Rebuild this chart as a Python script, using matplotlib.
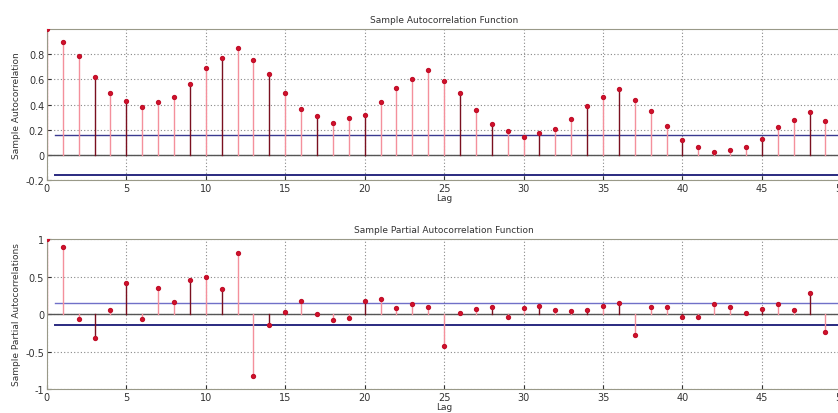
import matplotlib
matplotlib.use("Agg")
import matplotlib.pyplot as plt

lags = list(range(0, 50))

acf = [1.0, 0.896, 0.784, 0.621, 0.488, 0.429, 0.381, 0.416, 0.459, 0.563,
       0.688, 0.773, 0.851, 0.752, 0.640, 0.488, 0.363, 0.309, 0.251, 0.293,
       0.320, 0.416, 0.531, 0.603, 0.677, 0.589, 0.491, 0.357, 0.243, 0.189,
       0.144, 0.171, 0.203, 0.288, 0.389, 0.456, 0.523, 0.437, 0.352, 0.227,
       0.117, 0.064, 0.019, 0.040, 0.059, 0.128, 0.219, 0.280, 0.341, 0.269]

pacf = [1.0, 0.89, -0.07, -0.32, 0.05, 0.42, -0.06, 0.35, 0.155, 0.46,
        0.50, 0.34, 0.81, -0.83, -0.14, 0.03, 0.18, 0.005, -0.085, -0.05,
        0.18, 0.20, 0.075, 0.13, 0.10, -0.42, 0.01, 0.067, 0.098, -0.04,
        0.084, 0.107, 0.058, 0.036, 0.058, 0.107, 0.147, -0.28, 0.10, 0.098,
        -0.04, -0.04, 0.13, 0.10, 0.01, 0.07, 0.13, 0.058, 0.28, -0.235]

acf_bound = 0.16
pacf_bound = 0.15

# stems that render darker in the reference (pixel alignment look)
dark_lags = [3, 5, 9, 11, 14, 17, 20, 26, 28, 31, 34, 36, 40, 45, 48]


def draw_panel(ax, vals, bound, ylim, yticks, ylabel, title, up_color):
    for lag, v in zip(lags, vals):
        c = "#7a1020" if lag in dark_lags else "#f4909c"
        ax.plot([lag, lag], [0, v], color=c, lw=1.0, zorder=2)
    ax.plot(lags, vals, "o", color="#d8102a", ms=2.8, mec="#c0102a", zorder=3)
    ax.axhline(0, color="#555555", lw=1.0, zorder=1)
    ax.plot([0.5, 50], [bound, bound], color=up_color, lw=1.0, zorder=1)
    ax.plot([0.5, 50], [-bound, -bound], color="#2a2a80", lw=1.4, zorder=1)
    ax.set_xlim(0, 50)
    ax.set_ylim(*ylim)
    ax.set_xticks(range(0, 51, 5))
    ax.set_yticks(yticks)
    ax.grid(True, linestyle=(0, (1, 2)), color="#888888", lw=0.8)
    ax.set_axisbelow(True)
    ax.tick_params(labelsize=7, direction="in", length=3, pad=2, colors="#333333")
    for s in ax.spines.values():
        s.set_color("#999988")
    ax.set_ylabel(ylabel, fontsize=6.5, color="#333333", labelpad=3)
    ax.set_xlabel("Lag", fontsize=6.5, color="#333333", labelpad=0)
    ax.set_title(title, fontsize=6.5, color="#333333", pad=5)


fig = plt.figure(figsize=(8.38, 4.14), dpi=100)
ax1 = fig.add_axes([0.056, 0.5628, 0.948, 0.3647])
ax2 = fig.add_axes([0.056, 0.058, 0.948, 0.362])

draw_panel(ax1, acf, acf_bound, (-0.2, 1.0), [-0.2, 0, 0.2, 0.4, 0.6, 0.8],
           "Sample Autocorrelation", "Sample Autocorrelation Function", "#3a3a90")
ax1.set_yticklabels(["-0.2", "0", "0.2", "0.4", "0.6", "0.8"])
draw_panel(ax2, pacf, pacf_bound, (-1, 1), [-1, -0.5, 0, 0.5, 1],
           "Sample Partial Autocorrelations", "Sample Partial Autocorrelation Function",
           "#7070c8")
ax2.set_yticklabels(["-1", "-0.5", "0", "0.5", "1"])

fig.savefig("out.png", dpi=100)
